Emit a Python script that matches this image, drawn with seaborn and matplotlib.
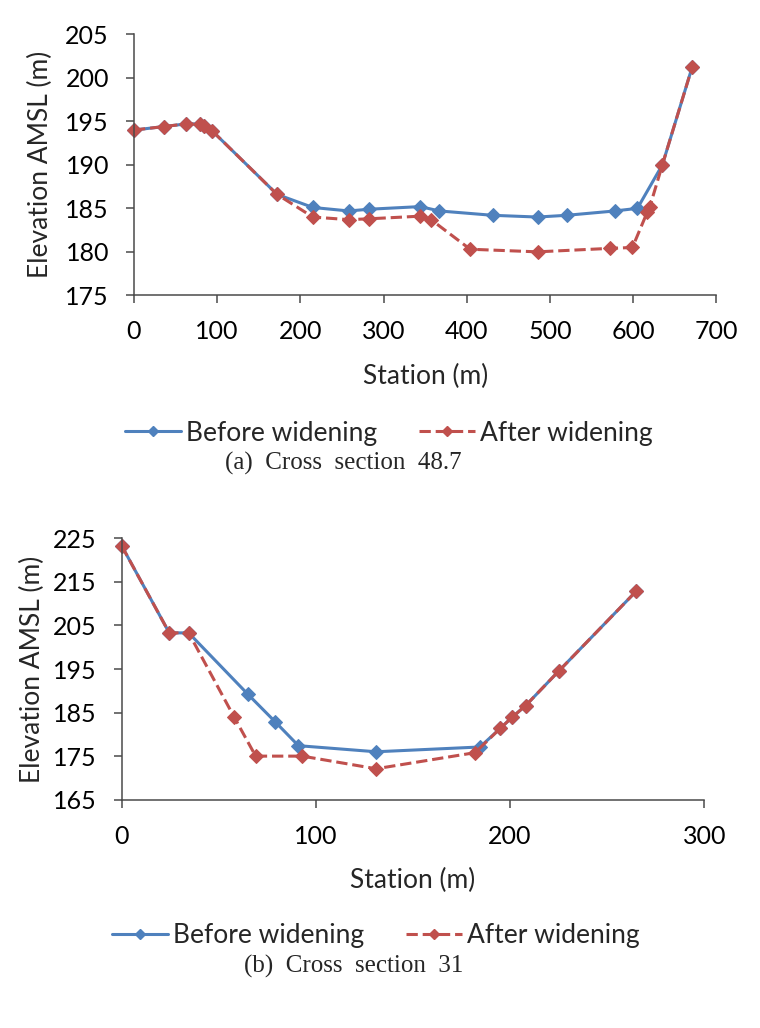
import seaborn as sns
import matplotlib.pyplot as plt
from matplotlib.lines import Line2D

# (a) Cross section 48.7
a_before_x = [0, 36, 62, 79, 84, 94, 172, 215, 258, 283, 344, 367, 431, 485, 520, 578, 605, 635, 671]
a_before_y = [194.0, 194.4, 194.7, 194.7, 194.5, 193.9, 186.6, 185.1, 184.7, 184.9, 185.2, 184.7, 184.2, 184.0, 184.2, 184.7, 185.0, 190.0, 201.3]
a_after_x = [0, 36, 62, 79, 84, 94, 172, 215, 258, 283, 344, 357, 404, 485, 572, 599, 617, 620, 635, 671]
a_after_y = [194.0, 194.4, 194.7, 194.7, 194.5, 193.9, 186.6, 184.0, 183.7, 183.8, 184.1, 183.7, 180.3, 180.0, 180.4, 180.5, 184.6, 185.2, 190.0, 201.3]

# (b) Cross section 31
b_before_x = [0, 24.5, 34.5, 65, 79, 91, 131, 184.5, 195, 201, 208, 225, 265]
b_before_y = [223.3, 203.3, 203.3, 189.2, 182.9, 177.4, 176.0, 177.1, 181.4, 183.9, 186.6, 194.5, 212.9]
b_after_x = [0, 24.5, 34.5, 58, 69, 93, 131, 182, 195, 201, 208, 225, 265]
b_after_y = [223.3, 203.3, 203.3, 183.9, 175.0, 175.0, 172.1, 175.8, 181.4, 183.9, 186.6, 194.5, 212.9]

series_labels = ["Before widening", "After widening"]
captions = ["(a)  Cross  section  48.7", "(b)  Cross  section  31"]

blue = "#4F81BD"
red = "#C0504D"
spine_col = "#4a4a4a"

sns.set_style("ticks")
plt.rcParams['font.family'] = ['Lato', 'DejaVu Sans']

fig = plt.figure(figsize=(7.6, 10.28), dpi=100)
ax1 = fig.add_axes([0.1763, 0.7127, 0.7664, 0.2539])
ax2 = fig.add_axes([0.1601, 0.2221, 0.7666, 0.2542])

panels = [
    (ax1, a_before_x, a_before_y, a_after_x, a_after_y, (0, 700), range(0, 701, 100), (175, 205), range(175, 206, 5), -0.1396),
    (ax2, b_before_x, b_before_y, b_after_x, b_after_y, (0, 300), range(0, 301, 100), (165, 225), range(165, 226, 10), -0.1316),
]

for ax, bx, by, ax_, ay, xl, xt, yl, yt, ylab_x in panels:
    sns.lineplot(x=bx, y=by, ax=ax, color=blue, marker='D', markersize=7,
                 markeredgecolor=blue, linewidth=2.2, sort=False, estimator=None)
    sns.lineplot(x=ax_, y=ay, ax=ax, color=red, marker='D', markersize=7,
                 markeredgecolor=red, linewidth=2.2, linestyle='--', sort=False, estimator=None)
    ax.set_xlim(*xl)
    ax.set_ylim(*yl)
    ax.set_xticks(list(xt))
    ax.set_yticks(list(yt))
    sns.despine(ax=ax)
    for s in ['left', 'bottom']:
        ax.spines[s].set_color(spine_col)
        ax.spines[s].set_linewidth(1.1)
    ax.tick_params(axis='both', direction='out', length=6, width=1.1, color=spine_col,
                   labelsize=18, labelcolor='black', pad=12)
    ax.set_xlabel("Station (m)", fontsize=19)
    ax.set_ylabel("Elevation AMSL (m)", fontsize=19)
    ax.xaxis.set_label_coords(0.5, -0.262)
    ax.yaxis.set_label_coords(ylab_x, 0.5)
    for l in ax.lines:
        l.set_clip_on(False)

handles = [
    Line2D([], [], color=blue, marker='D', markersize=5, linewidth=2.2),
    Line2D([], [], color=red, marker='D', markersize=5, linewidth=2.2, linestyle='--'),
]

for cx, cy in [(389, 433), (376, 936)]:
    fig.legend(handles, series_labels, ncol=2, loc='center', bbox_to_anchor=(cx / 760, 1 - cy / 1028),
               frameon=False, fontsize=19, handlelength=2.1, handletextpad=0.2, columnspacing=1.6)

fig.text(343 / 760, 1 - 463 / 1028, captions[0], ha='center', va='center',
         fontsize=18, family=['Liberation Serif'])
fig.text(354 / 760, 1 - 966 / 1028, captions[1], ha='center', va='center',
         fontsize=18, family=['Liberation Serif'])

fig.savefig("out.png", dpi=100, facecolor='white')
